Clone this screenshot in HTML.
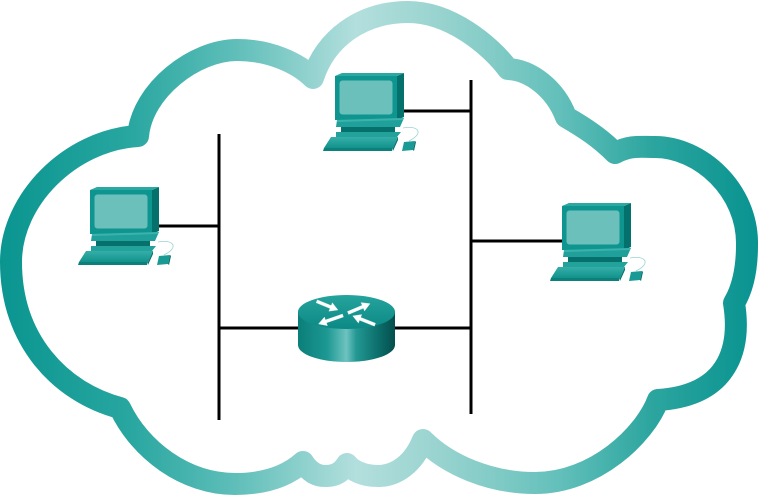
<!DOCTYPE html>
<html>
<head>
<meta charset="utf-8">
<style>
  html, body { margin: 0; padding: 0; background: #ffffff; }
  body { width: 758px; height: 495px; overflow: hidden; font-family: "Liberation Sans", sans-serif; }
  svg { display: block; }
</style>
</head>
<body>
<svg width="758" height="495" viewBox="0 0 758 495" xmlns="http://www.w3.org/2000/svg">
  <defs>
    <linearGradient id="cloudGrad" x1="0" y1="0" x2="758" y2="0" gradientUnits="userSpaceOnUse">
      <stop offset="0" stop-color="#0a9590"/>
      <stop offset="0.17" stop-color="#28a6a0"/>
      <stop offset="0.31" stop-color="#5fbeb9"/>
      <stop offset="0.47" stop-color="#b3dfdd"/>
      <stop offset="0.58" stop-color="#98d3cf"/>
      <stop offset="0.66" stop-color="#7fcac5"/>
      <stop offset="0.74" stop-color="#62bfba"/>
      <stop offset="0.86" stop-color="#2ca59f"/>
      <stop offset="1" stop-color="#089390"/>
    </linearGradient>
    <linearGradient id="rside" x1="298" y1="0" x2="395" y2="0" gradientUnits="userSpaceOnUse">
      <stop offset="0" stop-color="#0b7e79"/>
      <stop offset="0.3" stop-color="#1c9893"/>
      <stop offset="0.5" stop-color="#6ec3bf"/>
      <stop offset="0.6" stop-color="#239893"/>
      <stop offset="0.85" stop-color="#0a6a67"/>
      <stop offset="1" stop-color="#054e4c"/>
    </linearGradient>
    <linearGradient id="rtop" x1="0" y1="295" x2="0" y2="329" gradientUnits="userSpaceOnUse">
      <stop offset="0" stop-color="#25a39d"/>
      <stop offset="1" stop-color="#0c8984"/>
    </linearGradient>
    <linearGradient id="kb" x1="0" y1="137" x2="0" y2="148" gradientUnits="userSpaceOnUse">
      <stop offset="0" stop-color="#35aea8"/>
      <stop offset="1" stop-color="#12928c"/>
    </linearGradient>
    <g id="pc">
      <polygon points="397,76 404,73 404,117 397,120" fill="#05716d"/>
      <polygon points="335,76 342,73 404,73 397,76" fill="#2aa8a2"/>
      <rect x="335" y="76" width="62" height="44" fill="#0f958f"/>
      <rect x="339.5" y="80.5" width="53" height="34" rx="3" fill="#6bc0bb"/>
      <polygon points="337,120 404,118 400,127 336,127" fill="#1fa09a"/>
      <polygon points="337,120 404,118 403,120 337,122" fill="#3db2ac"/>
      <rect x="341" y="127" width="54" height="5" fill="#06706c"/>
      <polygon points="336,132 401,132 397,137 336,137" fill="#23a29c"/>
      <polygon points="331,137 398,137 393,148 324,148" fill="url(#kb)"/>
      <polygon points="324,148 393,148 392,151 323,151" fill="#0c807b"/>
      <polygon points="398,137 398,140 393,151 393,148" fill="#06706c"/>
      <polygon points="404,142 415,141 413,150 402,151" fill="#1a9a94"/>
      <polygon points="415,141 416,142 414,151 413,150" fill="#06706c"/>
      <path d="M403,128 C418,125 425,133 409,141" fill="none" stroke="#9ad4d0" stroke-width="0.8"/>
    </g>
  </defs>

  <!-- Cloud -->
  <path d="M138,136 C142,90 195,50 237,50 C270,50 298,63 313,78 C325,40 360,12 408,12 C450,12 490,45 508,69 C530,70 555,88 566,117 C585,128 600,138 615,153 C630,145 640,147 655,147 C700,147 748,190 747,245 C747,270 742,290 734,303 C740,340 735,395 658,400 C645,435 595,483 535,483 C490,483 448,465 423,440 C413,465 395,476 378,476 C362,476 352,470 347,464 C340,475 332,476 325,476 C315,476 308,470 303,462 C285,478 262,484 235,484 C185,484 140,450 120,408 C60,392 11,340 11,262 C11,200 70,140 138,136 Z"
        fill="none" stroke="url(#cloudGrad)" stroke-width="22" stroke-linejoin="round"/>

  <!-- Network lines -->
  <g stroke="#000" stroke-width="3" fill="none">
    <line x1="219" y1="134" x2="219" y2="420"/>
    <line x1="471" y1="80" x2="471" y2="414"/>
    <line x1="219" y1="328" x2="471" y2="328"/>
    <line x1="400" y1="111" x2="471" y2="111"/>
    <line x1="155" y1="226" x2="219" y2="226"/>
    <line x1="471" y1="241" x2="565" y2="241"/>
  </g>

  <!-- PCs -->
  <use href="#pc"/>
  <use href="#pc" transform="translate(-245,114)"/>
  <use href="#pc" transform="translate(227,130)"/>

  <!-- Router -->
  <path d="M298,312 L298,345 A48.5,17 0 0 0 395,345 L395,312 Z" fill="url(#rside)"/>
  <ellipse cx="346.5" cy="312" rx="48.5" ry="17" fill="url(#rtop)"/>
  <g fill="#ffffff" stroke="#d5ecea" stroke-width="0.3">
    <polygon points="0,-1.6 15,-1.6 15,-4.6 23,0 15,4.6 15,1.6 0,1.6" transform="translate(316.7,301.3) rotate(22.2)"/>
    <polygon points="0,-1.6 16,-1.6 16,-4.6 24,0 16,4.6 16,1.6 0,1.6" transform="translate(348,313) rotate(-22.9)"/>
    <polygon points="0,-1.6 18,-1.6 18,-4.6 26,0 18,4.6 18,1.6 0,1.6" transform="translate(343,315.5) rotate(161)"/>
    <polygon points="0,-1.6 16,-1.6 16,-4.6 24,0 16,4.6 16,1.6 0,1.6" transform="translate(375,324.7) rotate(201.6)"/>
  </g>
</svg>
</body>
</html>
